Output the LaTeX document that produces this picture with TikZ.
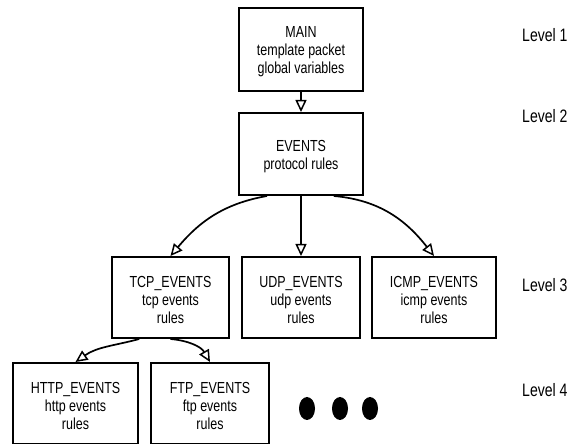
\documentclass[tikz,border=0pt]{standalone}
\usepackage{fontspec}
\setmainfont{Liberation Sans}[FakeStretch=0.78]
\usetikzlibrary{arrows.meta}

\begin{document}
\begin{tikzpicture}[x=1pt,y=1pt,
    box/.style={draw,line width=2pt,align=center,inner sep=0pt,
        font=\fontsize{16}{18}\selectfont},
    lvl/.style={anchor=west,inner sep=0pt,font=\fontsize{18}{20}\selectfont},
    link/.style={line width=1.7pt,-{Triangle[open,length=12pt,width=11pt,line width=1.5pt]}}]
                        \useasboundingbox (0,0) rectangle (584,444);

                        \node[box,minimum width=124pt,minimum height=83pt] (main) at(301,394.5) {\rule{0pt}{16pt}MAIN\\template packet\\global variables};
                        \node[box,minimum width=124pt,minimum height=82pt] (events) at(301,290) {\rule{0pt}{16pt}EVENTS\\protocol rules};

                        \node[box,minimum width=117pt,minimum height=81pt] (tcp) at(170.5,146.5) {\rule{0pt}{16pt}TCP\_EVENTS\\tcp events\\rules};
                        \node[box,minimum width=118pt,minimum height=81pt] (udp) at(301,146.5) {\rule{0pt}{16pt}UDP\_EVENTS\\udp events\\rules};
                        \node[box,minimum width=124pt,minimum height=81pt] (icmp) at(434,146.5) {\rule{0pt}{16pt}ICMP\_EVENTS\\icmp events\\rules};

                        \node[box,minimum width=125pt,minimum height=81pt] (http) at(75.5,40.5) {\rule{0pt}{16pt}HTTP\_EVENTS\\http events\\rules};
                        \node[box,minimum width=118pt,minimum height=81pt] (ftp) at(210,40.5) {\rule{0pt}{16pt}FTP\_EVENTS\\ftp events\\rules};

                        \fill (307,35.5) ellipse (8 and 11.5);
                        \fill (340,35.5) ellipse (8 and 11.5);
                        \fill (370,35.5) ellipse (8 and 11.5);

                        \draw[link] (main.south)--(events.north);
                        \draw[link] (events.231) to[out=190,in=50] (tcp.north);
                        \draw[link] (events.south)--(udp.north);
                        \draw[link] (events.308) to[out=-5,in=128] (icmp.north);
                        \draw[link] (tcp.233) to[out=195,in=35] (http.north);
                        \draw[link] (tcp.south) to[out=-5,in=120] (ftp.north);

                        \node[lvl] (l1) at(522,409) {Level 1};
                        \node[lvl] (l2) at(522,328) {Level 2};
                        \node[lvl] (l3) at(522,159) {Level 3};
                        \node[lvl] (l4) at(522,54) {Level 4};
                    \end{tikzpicture}
\end{document}
